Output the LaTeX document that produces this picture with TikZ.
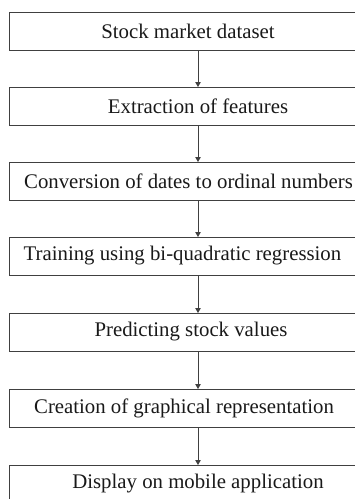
\documentclass[tikz,border=0pt]{standalone}
\usepackage{fontspec}
\setmainfont{Liberation Serif}
\usetikzlibrary{arrows.meta}
\begin{document}
\begin{tikzpicture}[x=1pt,y=-1pt,
  stepbox/.style={draw=black!75,line width=1.2pt,minimum width=378pt,minimum height=38pt,inner sep=0pt,anchor=north west},
  steptext/.style={font=\fontsize{20.8}{24}\selectfont,inner sep=0pt,text=black!90},
  conn/.style={draw=black!75,line width=0.8pt,-{Triangle[length=5pt,width=5.5pt]}}]
\useasboundingbox (0,0) rectangle (355,499);
\begin{scope}
\clip (0,0) rectangle (355,499);
\node[stepbox] (b1) at (9,12) {};
\node[stepbox] (b2) at (9,87) {};
\node[stepbox] (b3) at (9,162) {};
\node[stepbox] (b4) at (9,237) {};
\node[stepbox] (b5) at (9,313) {};
\node[stepbox] (b6) at (9,389) {};
\node[stepbox] (b7) at (9,465) {};
\node[steptext] (t1) at (188,31) {Stock market dataset};
\node[steptext] (t2) at (198,106) {Extraction of features};
\node[steptext] (t3) at (188.5,181) {Conversion of dates to ordinal numbers};
\node[steptext] (t4) at (182.5,256) {Training using bi-quadratic regression};
\node[steptext] (t5) at (191,332) {Predicting stock values};
\node[steptext] (t6) at (184,408) {Creation of graphical representation};
\node[steptext] (t7) at (198,484) {Display on mobile application};
\coordinate (s1) at (198,50);
\coordinate (e1) at (198,87);
\coordinate (s2) at (198,125);
\coordinate (e2) at (198,162);
\coordinate (s3) at (198,200);
\coordinate (e3) at (198,237);
\coordinate (s4) at (198,275);
\coordinate (e4) at (198,313);
\coordinate (s5) at (198,351);
\coordinate (e5) at (198,389);
\coordinate (s6) at (198,427);
\coordinate (e6) at (198,465);
\draw[conn] (s1) -- (e1);
\draw[conn] (s2) -- (e2);
\draw[conn] (s3) -- (e3);
\draw[conn] (s4) -- (e4);
\draw[conn] (s5) -- (e5);
\draw[conn] (s6) -- (e6);
\end{scope}
\end{tikzpicture}
\end{document}
